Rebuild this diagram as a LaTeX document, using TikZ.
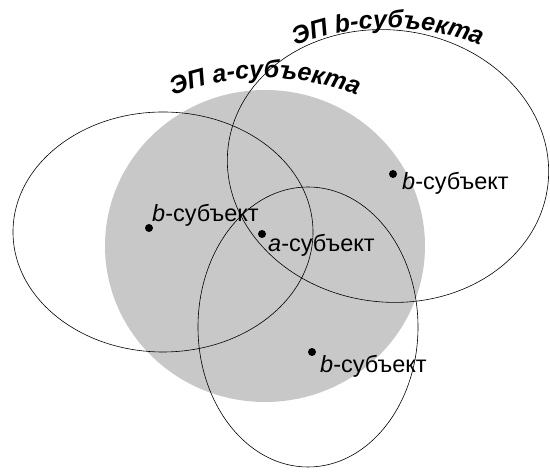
\documentclass[tikz,border=0pt]{standalone}
\usepackage{fontspec}
\setmainfont{Liberation Sans}
\usetikzlibrary{decorations.text}
\definecolor{epgray}{RGB}{200,200,200}
\newcommand{\subj}[1]{\textit{#1}-субъект}
\newcommand{\ttlfont}{\fontsize{25}{29}\selectfont\bfseries\itshape}

\begin{document}
\begin{tikzpicture}[x=1pt,y=1pt,
    ring/.style={draw=black,line width=0.6pt},
    subjdot/.style={circle,fill=black,inner sep=0pt,minimum size=8pt},
    lbl/.style={inner sep=0pt,anchor=base west,font=\fontsize{23.5}{27}\selectfont}]
  \useasboundingbox (0,0) rectangle (550,473);
  \fill[epgray] (265,227) ellipse [x radius=160, y radius=156];
  \draw[ring] (163,241) ellipse [x radius=150, y radius=120];
  \draw[ring,rotate around={-7:(388,307)}] (388,307) ellipse [x radius=161, y radius=136];
  \draw[ring] (308,146) ellipse [x radius=110, y radius=140];
  % subjects
  \node[subjdot] (bL) at (149,245) {};
  \node[subjdot] (aC) at (262,239) {};
  \node[subjdot] (bD) at (312,121) {};
  \node[subjdot] (bR) at (393,299) {};
  \node[lbl] (bLt) at (152,251) {\subj{b}};
  \node[lbl] (aCt) at (268,221) {\subj{a}};
  \node[lbl] (bDt) at (320,100) {\subj{b}};
  \node[lbl] (bRt) at (402,283) {\subj{b}};
  % titles
  \path[decorate,decoration={text along path,text align=center,
      text={|\ttlfont|ЭП a-субъекта}}]
    (265,145) ++(130:250) arc[start angle=130,end angle=50,radius=250];
  \path[decorate,decoration={text along path,text align=center,
      text={|\ttlfont|ЭП b-субъекта}}]
    (388,195) ++(130:250) arc[start angle=130,end angle=50,radius=250];
\end{tikzpicture}
\end{document}
